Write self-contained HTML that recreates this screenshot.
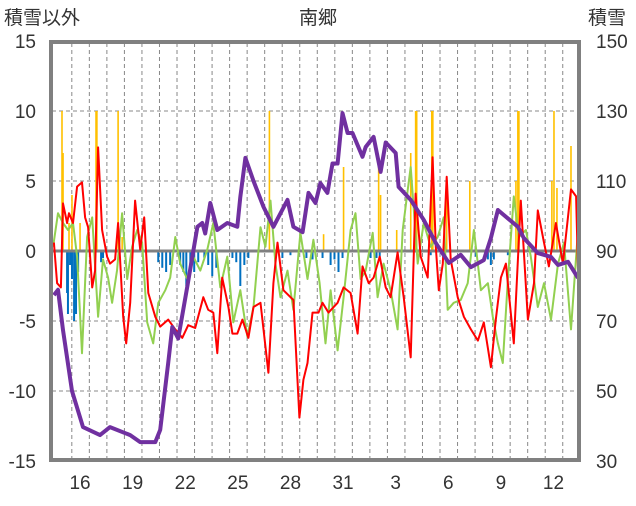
<!DOCTYPE html>
<html><head><meta charset="utf-8"><style>
body{margin:0;background:#fff;}
svg text{font-family:"Liberation Sans","Noto Sans CJK JP",sans-serif;}
</style></head><body>
<svg id="c" width="636" height="501" xmlns="http://www.w3.org/2000/svg">
<text x="4" y="24" font-size="19" fill="#333">積雪以外</text>
<text x="318" y="24" font-size="19" fill="#333" text-anchor="middle">南郷</text>
<text x="588" y="24" font-size="19" fill="#333">積雪</text>
<g id="grid"></g><g id="bars"></g><g id="lines"></g><g id="axes"></g>
</svg>
<script>
const leftTicks=[15,10,5,0,-5,-10,-15];
const rightTicks=[150,130,110,90,70,50,30];
const dayLabels=["16","19","22","25","28","31","3","6","9","12"];
const dayLabelT=[1.6,4.6,7.6,10.6,13.6,16.6,19.6,22.6,25.6,28.6];
const gridT=[1.13,2.13,3.13,4.13,5.13,6.13,7.13,8.13,9.13,10.13,11.13,12.13,13.13,14.13,15.13,16.13,17.13,18.13,19.13,20.13,21.13,22.13,23.13,24.13,25.13,26.13,27.13,28.13,29.13];
const snowT=[.11,.34,.63,1.14,1.77,2.74,3.31,4.46,5.03,5.89,6.17,6.63,6.86,7.2,7.71,8.29,8.57,8.74,9.03,9.43,10,10.57,10.74,11.03,11.49,12.06,12.63,13.43,13.77,14.29,14.63,15.03,15.31,15.71,16,16.29,16.57,16.86,17.14,17.71,17.89,18.34,18.74,19.03,19.6,19.77,20.46,21.2,21.89,22.63,23.31,23.89,24.63,25.03,25.43,25.77,26.57,26.91,27.71,28.46,28.86,29.43,30];
const snowV=[77.4,78.9,67.4,50,39.7,37.4,39.7,37.4,35.4,35.4,38.9,58,68.3,65,79.7,96.9,98,95,103.7,96,98,96.9,105.4,116.6,110,102.6,96.9,104.6,96.9,95.4,106.6,103.7,109.4,106.6,115,115,129.4,123.7,123.7,116.9,119.7,122.6,112.6,121,118,108.3,104.6,98.9,92.3,86.6,88.9,85.4,87.4,93.7,101.7,100.3,96.9,93.7,89.4,88.3,86,86.9,82.3];
const redT=[.11,.29,.51,.63,.86,.97,1.2,1.43,1.71,1.89,2.06,2.29,2.46,2.63,2.86,3.14,3.31,3.6,3.77,4.06,4.23,4.46,4.74,5.03,5.26,5.49,5.89,6.17,6.63,7.03,7.43,7.77,8.17,8.63,8.91,9.2,9.43,9.71,10.06,10.29,10.57,10.86,11.2,11.49,11.89,12.34,12.63,12.86,13.2,13.77,14.11,14.34,14.57,14.86,15.2,15.43,15.77,16.29,16.63,17.03,17.43,17.71,18.06,18.34,18.69,19.03,19.31,19.71,20.06,20.46,20.74,21.03,21.43,21.71,21.89,22.06,22.29,22.51,22.74,23.14,23.49,23.89,24.29,24.63,25.03,25.31,25.6,25.89,26.34,26.74,27.14,27.49,27.71,28.06,28.34,28.74,29.14,29.6,29.89,30];
const redV=[.6,-2.3,-2.6,3.4,2,2.7,2,4.6,4.9,2.4,1.7,-2.6,-1.4,7.4,1.5,-.4,-.9,-.6,2,-4.7,-6.6,-3.7,3.6,.1,2.4,-3,-4.7,-5.4,-4.9,-5.6,-6.2,-5.3,-5.5,-3.3,-4.2,-4.4,-7.3,-1.9,-4,-5.9,-5.9,-4.9,-6.2,-4,-3.7,-8.7,-2.3,.6,-2.8,-3.5,-11.9,-9.2,-8,-4.4,-4.4,-3.7,-4.4,-3.7,-2.6,-3,-5.9,-1.1,-2.3,-1.9,-.4,-2.6,-3.3,-.1,-3.3,-7.6,4.1,-.4,-1.9,6.7,.3,-2.8,-.9,5.3,-.6,-3.3,-4.7,-5.6,-6.4,-5.1,-8.3,-4.9,-1.9,-.9,-6.6,3.6,-4.9,-2.3,2.9,.6,-1.1,2,-.9,4.4,3.9,-1.4];
const greenT=[.06,.34,.63,.91,1.2,1.43,1.71,2,2.29,2.63,2.91,3.2,3.43,3.71,4,4.29,4.57,4.86,5.14,5.43,5.77,6.06,6.46,6.74,7.03,7.31,7.71,8.06,8.46,8.86,9.2,9.6,10,10.34,10.74,11.14,11.49,11.89,12.17,12.46,12.74,13.03,13.43,13.77,14.17,14.57,14.91,15.26,15.6,15.89,16.29,16.63,17.03,17.31,17.6,17.89,18.29,18.57,18.91,19.31,19.71,20,20.29,20.46,20.86,21.2,21.6,22,22.34,22.57,22.91,23.31,23.71,24.06,24.46,24.86,25.14,25.43,25.71,26,26.34,26.63,27.03,27.31,27.71,28.06,28.46,28.86,29.2,29.6,30];
const greenV=[.3,2.7,2,1.5,2,-.4,-7.3,1,2.4,-4.7,-.6,-1.9,-3.7,-1.4,2.7,-2,.3,1.5,.6,-5.1,-6.6,-3.7,-2.8,-1.9,1,-.9,-2,-.4,-1.4,.1,2,-2.6,-.4,-5.1,-2.8,-6.1,-4,1.7,.3,3.6,-.9,-3.3,-1.4,-4.2,1.3,-2,.8,-2.3,-6.6,-2.8,-7.1,-3.3,1.5,2.7,-2,-1.4,1.3,-3.3,-.9,-2.8,-5.6,1.5,4.4,6,-.9,2,.3,1,2.4,-4.2,-3.7,-3.5,-2.3,1.5,-2.8,-2.3,-4.7,-6.6,-8,-2,3.9,1,1.5,-.4,-4,-2.3,-4.9,-.9,.6,-5.6,1.5];
const posBarT=[.57,.63,.97,1.14,1.6,2.51,2.56,3.77,4,12.4,15.49,16.63,18.63,18.74,19.66,20.46,20.74,20.8,21.66,21.72,22.51,23.83,26.46,26.57,26.63,28.51,28.63,28.8,29.6];
const posBarV=[10,7,2,4,2,10,10,10,1,10,1.2,6,6.6,4,1.5,7,10,10,10,10,5,5,5,10,10,5,10,4.5,7.5];
const negBarT=[.86,.91,1.03,1.14,1.26,1.37,1.49,2.8,2.91,6.06,6.29,6.51,6.74,7.31,7.49,7.66,7.89,8.11,8.34,8.69,8.91,9.14,9.37,10.29,10.51,10.74,10.97,11.2,13.14,13.6,14.51,14.86,15.43,15.89,16.11,16.34,16.57,18.17,18.51,18.69,21.6,24.17,24.86,25.03,25.2,26];
const negBarV=[-3,-4.5,-1,-2,-5,-4.5,-1.5,-.8,-.5,-.8,-1.2,-1.5,-1,-1,-1.5,-2.5,-1,-1.5,-.8,-.5,-1,-1.8,-1.2,-.5,-.8,-2.5,-1,-.5,-.5,-.3,-.5,-.6,-.5,-1,-.6,-1.5,-.5,-.5,-.5,-.4,-.3,-.4,-.6,-1,-.6,-.3];

const NS="http://www.w3.org/2000/svg";
const X0=52,X1=578,Y0=41,Y1=461;
function xs(t){return X0+t*(X1-X0)/30;}
function yl(v){return 251-v*(Y1-Y0)/30;}
function yr(v){return 251-(v-90)*(Y1-Y0)/120;}
function mk(p,tag,a){const e=document.createElementNS(NS,tag);for(const k in a)e.setAttribute(k,a[k]);p.appendChild(e);return e;}
const grid=document.getElementById('grid'),bars=document.getElementById('bars'),lines=document.getElementById('lines'),axes=document.getElementById('axes');
leftTicks.forEach((v,i)=>{
  if(v!==0&&Math.abs(v)<15){const g=mk(grid,'line',{x1:X0,x2:X1,y1:yl(v),y2:yl(v),stroke:'#888','stroke-width':1,'stroke-dasharray':'4,3'});
  
  }
  const t=mk(axes,'text',{x:36,y:yl(v)+7,'font-size':19,fill:'#333','text-anchor':'end'});t.textContent=v;
  
  
  const r=mk(axes,'text',{x:596,y:yr(rightTicks[i])+7,'font-size':19,fill:'#333'});r.textContent=rightTicks[i];
  
  
});
gridT.forEach(t=>{const g=mk(grid,'line',{x1:xs(t),x2:xs(t),y1:Y0+2,y2:Y1-2,stroke:'#888','stroke-width':1,'stroke-dasharray':'4,3'});
  
  });
dayLabels.forEach((s,i)=>{const t=mk(axes,'text',{x:xs(dayLabelT[i]),y:489,'font-size':19,fill:'#333','text-anchor':'middle'});t.textContent=s;
  
  });
posBarT.forEach((t,i)=>{const b=mk(bars,'rect',{x:xs(t)-0.8,y:yl(posBarV[i]),width:1.6,height:yl(0)-yl(posBarV[i]),fill:'#ffc000'});
  
  });
negBarT.forEach((t,i)=>{const b=mk(bars,'rect',{x:xs(t)-1,y:yl(0),width:2,height:yl(negBarV[i])-yl(0),fill:'#0070c0'});
  
  });
const z=mk(lines,'line',{x1:X0,x2:X1,y1:yl(0),y2:yl(0),stroke:'#808080','stroke-width':3});


function path(T,V,f,col,w,name){const d=T.map((t,i)=>(i?'L':'M')+xs(t).toFixed(1)+','+f(V[i]).toFixed(1)).join('');
  const p=mk(lines,'path',{d:d,fill:'none',stroke:col,'stroke-width':w,'stroke-linejoin':'round'});
  
  }
path(greenT,greenV,yl,'#92d050',2,'green-series-line');
path(redT,redV,yl,'#ff0000',2,'red-series-line');
path(snowT,snowV,yr,'#7030a0',4,'snow-depth-line');
const fr=mk(axes,'rect',{x:X0-1,y:Y0+1,width:X1-X0+2,height:Y1-Y0-2,fill:'none',stroke:'#808080','stroke-width':4});


</script>
</body></html>
